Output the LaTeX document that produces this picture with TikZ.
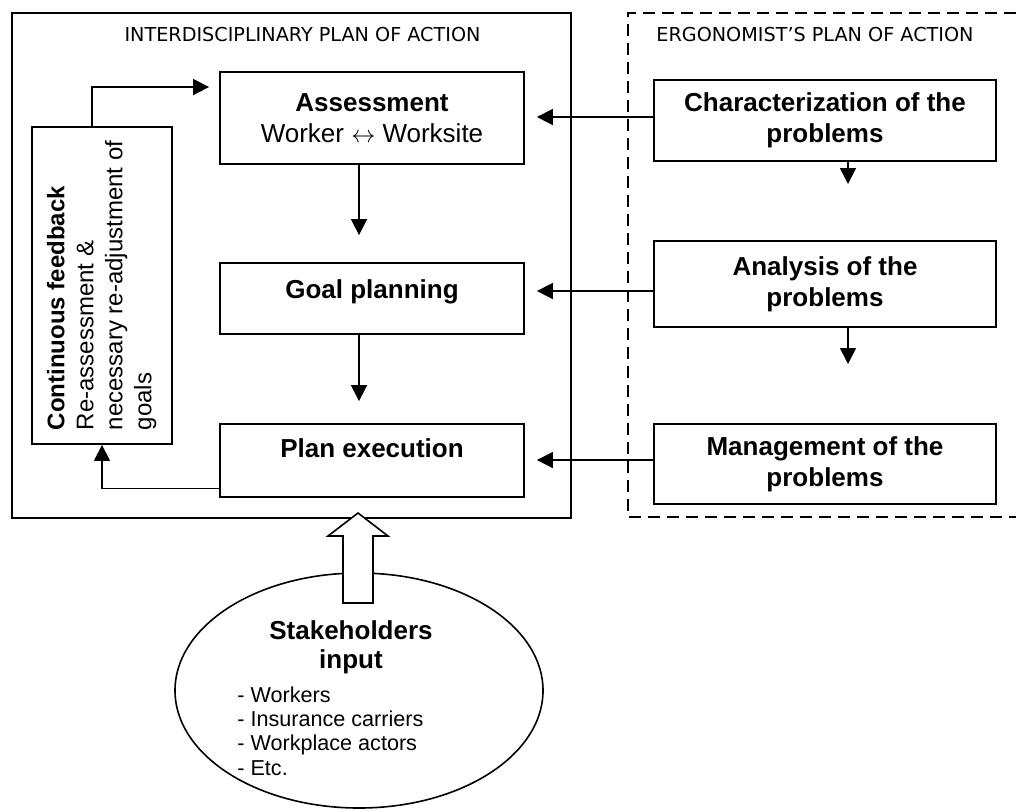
\documentclass[tikz,border=0pt]{standalone}
\usepackage{fontspec}
\setmainfont{Liberation Sans}
\newfontfamily\titlefont{DejaVu Sans}
\usetikzlibrary{arrows.meta,shapes.geometric}

\begin{document}
\begin{tikzpicture}[x=0.5pt,y=-0.5pt,
    box/.style={draw,line width=0.9pt,minimum width=152pt,align=center,inner sep=2pt,
      font=\fontsize{13}{15.5}\selectfont},
    rbox/.style={box,minimum width=171pt,font=\fontsize{13}{15.5}\selectfont\bfseries},
    arr/.style={line width=0.8pt,-{Triangle[length=8pt,width=8pt]}},
    title/.style={font=\titlefont\fontsize{9.6}{11}\selectfont,inner sep=0pt}]
  % 全体の範囲
  \useasboundingbox (0,0) rectangle (1016,811);
  % 学際的な行動計画の枠
  \draw[line width=0.9pt] (12,13) rectangle (571,518);
  % 人間工学者の行動計画の枠（破線）
  \draw[line width=0.8pt,dash pattern=on 6pt off 3.5pt] (1016,13) -- (628,13) -- (628,517) -- (1016,517);
  % 枠の見出し
  \node[title,anchor=base] (ttlinter) at (302.5,41) {INTERDISCIPLINARY PLAN OF ACTION};
  \node[title,anchor=base west] (ttlergo) at (656,41) {ERGONOMIST’S PLAN OF ACTION};
  % 左側の三つの箱
  \node[box,minimum height=46pt] (assess) at (372,118) {\textbf{Assessment}\\Worker $\leftrightarrow$ Worksite};
  \node[box,minimum height=35.5pt,text depth=9pt] (goal) at (372,298.5) {\textbf{Goal planning}};
  \node[box,minimum height=36.5pt,text depth=12.5pt] (plan) at (372,460.5) {\textbf{Plan execution}};
  % フィードバックの箱（縦書き）
  \node[draw,line width=0.9pt,minimum width=70pt,minimum height=158.5pt,inner sep=0pt] (fb) at (102,285.5)
    {\rotatebox{90}{\fontsize{12}{14.5}\selectfont\begin{tabular}{@{}l@{}}
      \textbf{Continuous feedback}\\Re-assessment \&\\necessary re-adjustment of\\goals\end{tabular}}};
  % 右側の三つの箱
  \node[rbox,minimum height=40.5pt] (char) at (825,120.5) {Characterization of the\\problems};
  \node[rbox,minimum height=43pt] (anal) at (825,284) {Analysis of the\\problems};
  \node[rbox,minimum height=40pt] (mgmt) at (825,464) {Management of the\\problems};
  % 左側の流れ
  \draw[arr,shorten >=13.5pt] ([xshift=-6.5pt]assess.south) -- ([xshift=-6.5pt]goal.north);
  \draw[arr,shorten >=11pt] ([xshift=-6.5pt]goal.south) -- ([xshift=-6.5pt]plan.north);
  % フィードバックの矢印
  \draw[arr,shorten >=5pt] ([xshift=-5pt]fb.north) |- ([yshift=15.5pt]assess.west);
  \draw[arr] ([yshift=-14pt]plan.west) -| (fb.south);
  % 右から左への矢印
  \draw[arr,shorten >=6pt] ([yshift=1.75pt]char.west) -- ([yshift=1.75pt]char.west -| assess.east);
  \draw[arr,shorten >=6pt] ([yshift=-3.5pt]anal.west) -- ([yshift=-3.5pt]anal.west -| goal.east);
  \draw[arr,shorten >=6pt] ([yshift=2pt]mgmt.west) -- ([yshift=2pt]mgmt.west -| plan.east);
  % 右側の短い下向き矢印
  \coordinate (chardown) at (848,184);
  \draw[arr] (chardown |- char.south) -- (chardown);
  \coordinate (analdown) at (848,364);
  \draw[arr] (analdown |- anal.south) -- (analdown);
  % 関係者の楕円
  \node[draw,ellipse,line width=0.8pt,minimum width=184pt,minimum height=117.5pt] (stake) at (359,690.5) {};
  \node[font=\fontsize{13}{14.5}\selectfont\bfseries,align=center] (staketxt) at (351,647) {Stakeholders\\input};
  \node[font=\fontsize{10.8}{12.2}\selectfont,align=left,anchor=north west,inner sep=0pt] (stakelist) at (237,686)
    {- Workers\\- Insurance carriers\\- Workplace actors\\- Etc.};
  % 白抜きの上向き矢印
  \draw[line width=0.8pt,fill=white] (343,603) -- (343,536) -- (328,536) -- (358,513)
    -- (388,536) -- (373,536) -- (373,603) -- cycle;
\end{tikzpicture}
\end{document}
